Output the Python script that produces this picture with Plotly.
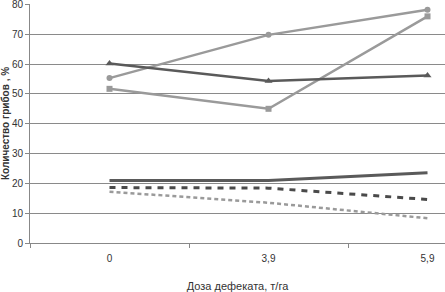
import plotly.graph_objects as go

categories = ["0", "3,9", "5,9"]
s_tri = [60.2, 54.3, 56.2]
s_circ = [55.3, 69.8, 78.2]
s_sq = [51.7, 45.0, 76.0]
s_solid = [21.0, 21.0, 23.6]
s_dash = [18.6, 18.4, 14.6]
s_dot = [17.2, 13.5, 8.3]
y_ticks = [0, 10, 20, 30, 40, 50, 60, 70, 80]

dark = "#5a5a5a"
light = "#9a9a9a"

fig = go.Figure()
fig.add_trace(go.Scatter(x=categories, y=s_solid, mode="lines",
                         line=dict(color=dark, width=3)))
fig.add_trace(go.Scatter(x=categories, y=s_dash, mode="lines",
                         line=dict(color="#4a4a4a", width=3, dash="6px,6px")))
fig.add_trace(go.Scatter(x=categories, y=s_dot, mode="lines",
                         line=dict(color=light, width=2.5, dash="4px,3px")))
fig.add_trace(go.Scatter(x=categories, y=s_sq, mode="lines+markers",
                         line=dict(color=light, width=2.5),
                         marker=dict(symbol="square", size=6, color=light)))
fig.add_trace(go.Scatter(x=categories, y=s_circ, mode="lines+markers",
                         line=dict(color=light, width=2.5),
                         marker=dict(symbol="circle", size=6, color=light)))
fig.add_trace(go.Scatter(x=categories, y=s_tri, mode="lines+markers",
                         line=dict(color=dark, width=2.5),
                         marker=dict(symbol="triangle-up", size=7, color=dark)))

font = "Liberation Sans Narrow, Arial Narrow, Liberation Sans, sans-serif"
fig.update_layout(
    width=445, height=292,
    margin=dict(l=30, r=0, t=4, b=49),
    paper_bgcolor="white", plot_bgcolor="white",
    showlegend=False,
    font=dict(family=font, size=10, color="#333"),
    xaxis=dict(type="category", categoryorder="array", categoryarray=categories,
               range=[-0.5, 2.11], showgrid=False, showline=True,
               linecolor="#888", linewidth=1, ticks="outside", ticklen=4,
               tickcolor="#888", tickson="boundaries", zeroline=False,
               automargin=False, ticklabelstandoff=6,
               title=dict(text="Доза дефеката, т/га", font=dict(size=11, family=font),
                          standoff=22),
               tickfont=dict(size=10)),
    yaxis=dict(range=[0, 80.15], tickvals=y_ticks, showgrid=True, gridcolor="#8a8a8a",
               gridwidth=1, showline=True, linecolor="#888", linewidth=1,
               ticks="outside", ticklen=4, tickcolor="#888", zeroline=False,
               automargin=False, ticklabeloverflow="allow",
               title=dict(text="<b>Количество грибов , %</b>",
                          font=dict(size=10, family=font), standoff=7),
               tickfont=dict(size=10)),
)
fig.write_html("out.html", config={"displayModeBar": False},
               post_script="document.body.style.margin='0';document.body.style.overflow='hidden';")
